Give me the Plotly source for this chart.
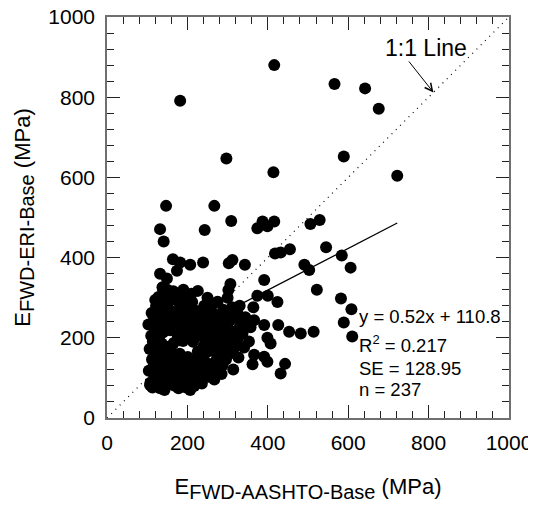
import plotly.graph_objects as go

# ---- data (MPa) ----
sparse_x = [182, 416, 297, 414, 566, 642, 676, 589, 722, 147, 267, 309, 132, 243, 141,
            374, 387, 416, 399, 506, 529, 418, 432, 455, 545, 584, 606, 491, 503, 164,
            182, 207, 239, 132, 149, 174, 303, 312, 343, 391, 522, 582, 608, 589, 610,
            307, 302, 226, 140, 165, 374, 400, 424, 364, 324, 345, 366, 391, 426, 453,
            482, 514, 399, 407, 366, 391, 399, 362, 314, 443, 432, 207, 107, 132, 178,
            232, 253, 120, 141, 182]
sparse_y = [791, 880, 647, 613, 833, 822, 771, 652, 604, 529, 529, 491, 471, 469, 440,
            473, 490, 490, 478, 484, 494, 410, 413, 421, 426, 405, 375, 382, 369, 396,
            388, 382, 388, 360, 348, 367, 386, 394, 382, 344, 320, 298, 271, 238, 203,
            334, 319, 317, 319, 316, 305, 305, 289, 276, 262, 244, 244, 232, 232, 215,
            211, 215, 200, 186, 158, 153, 140, 134, 121, 135, 111, 70, 82, 74, 74,
            91, 103, 294, 303, 298]

cluster_x = [108, 104, 112, 106, 110, 103, 111,
             118, 116, 121, 114, 119, 117, 122,
             127, 124, 131, 126, 129, 125, 132, 128,
             137, 134, 141, 136, 139, 142, 135, 138,
             147, 144, 151, 146, 150, 148, 152,
             156, 158, 161, 157, 160, 155, 162,
             167, 164, 170, 166, 171, 168, 165,
             177, 174, 181, 176, 179, 182,
             187, 191, 186, 189, 185, 192, 188,
             197, 194, 201, 196, 199, 195,
             207, 211, 204, 209, 206, 212,
             217, 216, 221, 214, 219, 222, 215,
             227, 229, 226, 231, 224, 228,
             236, 239, 241, 234, 238, 242,
             247, 244, 251, 246, 249, 245,
             257, 256, 261, 254, 259,
             267, 264, 270, 266, 271, 263,
             277, 274, 281, 276, 279,
             287, 284, 291, 286, 289,
             296, 299, 294, 301,
             306, 309, 304, 311,
             317, 314, 321,
             327, 324, 331,
             341, 337, 344,
             353, 357,
             113, 143, 183, 233, 130, 150, 190, 210, 275, 250, 300, 330, 285]
cluster_y = [88, 118, 146, 172, 205, 233, 262,
             102, 131, 160, 191, 222, 250, 279,
             80, 112, 139, 170, 198, 229, 266, 302,
             96, 126, 154, 186, 213, 244, 276, 326,
             86, 116, 146, 178, 231, 259, 289,
             101, 132, 166, 219, 249, 270, 308,
             81, 110, 146, 187, 236, 264, 296,
             97, 127, 160, 205, 250, 281,
             86, 117, 140, 192, 226, 266, 302,
             76, 104, 152, 212, 240, 281,
             96, 131, 199, 226, 255, 289,
             80, 114, 145, 190, 216, 245, 270,
             101, 130, 166, 205, 236, 266,
             86, 119, 180, 220, 250, 280,
             106, 140, 166, 201, 235, 263,
             121, 186, 214, 250, 276,
             96, 136, 170, 206, 236, 260,
             116, 151, 191, 226, 256,
             131, 166, 206, 241, 270,
             146, 186, 221, 255,
             161, 201, 241, 276,
             176, 215, 250,
             151, 196, 230,
             176, 211, 251,
             191, 226,
             76, 70, 96, 150, 250, 320, 320, 310, 290, 300, 300, 280, 110]

fit_slope = 0.52
fit_intercept = 110.8
fit_x = [115, 722]
one_to_one = [0, 1000]
stats_lines = ["y = 0.52x + 110.8", "R<sup>2</sup> = 0.217", "SE = 128.95", "n = 237"]

xs = sparse_x + cluster_x
ys = sparse_y + cluster_y
fit_y = [fit_slope * v + fit_intercept for v in fit_x]

FONT = "Liberation Sans, Arial, sans-serif"
SUB = "<sub><span style='font-size:20px'>{}</span></sub>"

fig = go.Figure()
fig.add_trace(go.Scatter(x=one_to_one, y=one_to_one, mode="lines",
                         line=dict(color="black", width=1.2, dash="1px,5px"),
                         hoverinfo="skip", showlegend=False))
fig.add_trace(go.Scatter(x=xs, y=ys, mode="markers",
                         marker=dict(color="black", size=12, line=dict(width=0)),
                         showlegend=False))
fig.add_trace(go.Scatter(x=fit_x, y=fit_y, mode="lines",
                         line=dict(color="black", width=1.3),
                         showlegend=False))

axis_common = dict(range=[0, 1000], dtick=200, tick0=0,
                   showgrid=False, zeroline=False, automargin=False,
                   ticklabeloverflow="allow",
                   showline=True, linecolor="#707070", linewidth=1.5, mirror="allticks",
                   ticks="inside", ticklen=13, tickwidth=1.2, tickcolor="#222",
                   minor=dict(dtick=40, ticks="inside", ticklen=7, tickwidth=1.2, tickcolor="#222"),
                   tickfont=dict(family=FONT, size=21, color="black"),
                   fixedrange=True)

fig.update_xaxes(**axis_common, ticklabelstandoff=5,
                 title=dict(text="E" + SUB.format("FWD-AASHTO-Base") + " (MPa)",
                            font=dict(family=FONT, size=22, color="black"), standoff=26))
fig.update_yaxes(**axis_common, ticklabelstandoff=6,
                 title=dict(text="E" + SUB.format("FWD-ERI-Base") + " (MPa)",
                            font=dict(family=FONT, size=22, color="black"), standoff=12))

# 1:1 line label and arrow
fig.add_annotation(x=793, y=922, text="1:1 Line", showarrow=False,
                   font=dict(family=FONT, size=23, color="black"))
fig.add_annotation(x=812, y=812, ax=748, ay=893, axref="x", ayref="y",
                   text="", showarrow=True, arrowhead=5, arrowsize=1.5,
                   arrowwidth=1, arrowcolor="black")

# statistics text
stat_y = [254, 184, 123, 72]
for t, yy in zip(stats_lines, stat_y):
    fig.add_annotation(x=622, y=yy, text=t, showarrow=False, xanchor="left",
                       yanchor="middle", font=dict(family=FONT, size=18.5, color="black"))

# page body has an 8px default margin: plot area lands at x 107-509, y 17-418
fig.update_layout(width=528, height=500,
                  margin=dict(l=99, r=27, t=9, b=90),
                  plot_bgcolor="white", paper_bgcolor="white",
                  font=dict(family=FONT))

fig.write_html("out.html")
